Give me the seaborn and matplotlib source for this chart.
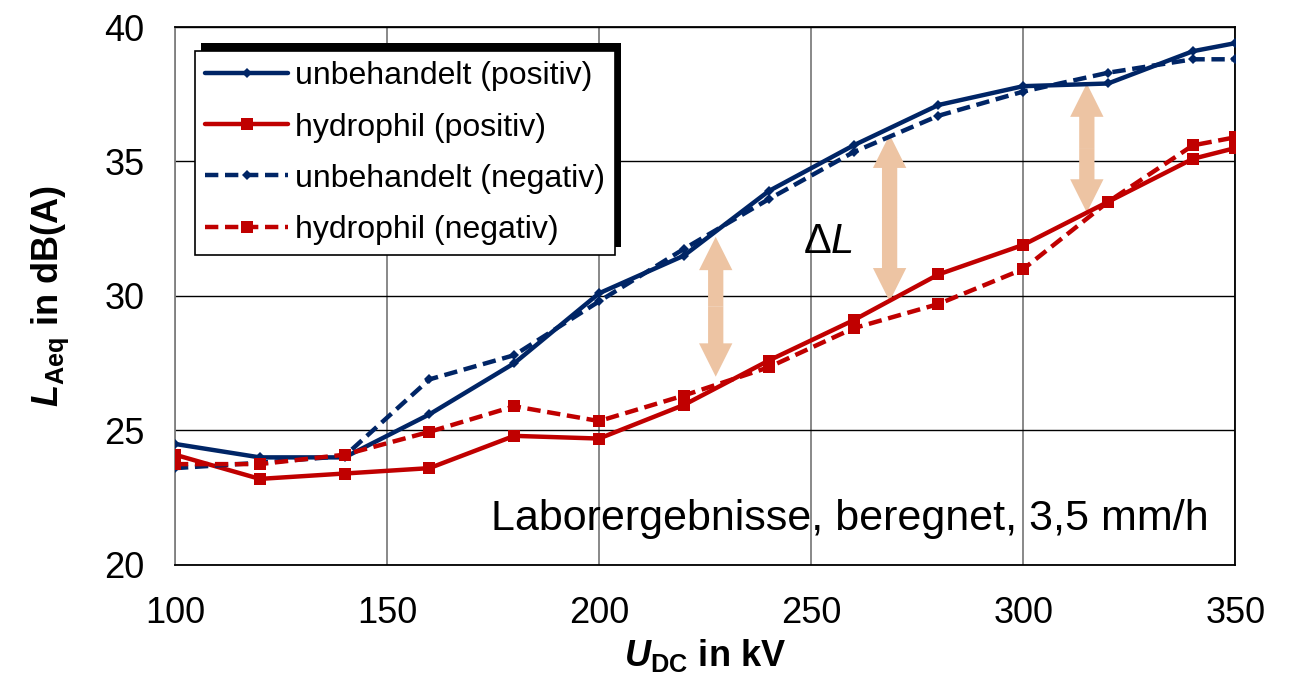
import numpy as np
import pandas as pd
import matplotlib
matplotlib.use("Agg")
import matplotlib.pyplot as plt
import matplotlib.patches as mpatches
from matplotlib.lines import Line2D
import seaborn as sns

# ---------------- data ----------------
voltage_kv = [100, 120, 140, 160, 180, 200, 220, 240, 260, 280, 300, 320, 340, 350]
unbeh_pos = [24.5, 24.0, 24.0, 25.6, 27.5, 30.1, 31.5, 33.9, 35.6, 37.1, 37.8, 37.9, 39.1, 39.4]
hydro_pos = [24.1, 23.2, 23.4, 23.6, 24.8, 24.7, 25.95, 27.6, 29.1, 30.8, 31.9, 33.5, 35.1, 35.5]
unbeh_neg = [23.6, 23.8, 24.05, 26.9, 27.8, 29.8, 31.75, 33.6, 35.35, 36.7, 37.6, 38.3, 38.8, 38.8]
hydro_neg = [23.75, 23.75, 24.1, 24.95, 25.9, 25.35, 26.3, 27.35, 28.8, 29.7, 31.0, 33.5, 35.6, 35.9]
series_labels = ["unbehandelt (positiv)", "hydrophil (positiv)",
                 "unbehandelt (negativ)", "hydrophil (negativ)"]
x_ticks = [100, 150, 200, 250, 300, 350]
y_ticks = [20, 25, 30, 35, 40]
# double arrows (x, y_top, y_bottom)
arrow_x = [227.5, 268.5, 315]
arrow_top = [32.2, 36.0, 37.9]
arrow_bot = [27.0, 29.8, 33.1]
note_text = "Laborergebnisse, beregnet, 3,5 mm/h"

# ---------------- style ----------------
sns.set_theme(style="white")
plt.rcParams["font.family"] = ["Liberation Sans", "DejaVu Sans"]
plt.rcParams["text.color"] = "black"
plt.rcParams["axes.labelcolor"] = "black"
plt.rcParams["mathtext.fontset"] = "custom"
plt.rcParams["mathtext.rm"] = "Liberation Sans"
plt.rcParams["mathtext.it"] = "Liberation Sans:italic"
plt.rcParams["mathtext.bf"] = "Liberation Sans:bold"
plt.rcParams["mathtext.bfit"] = "Liberation Sans:bold:italic"

navy = "#002566"
red = "#C00000"
arrow_col = "#EDC4A3"

fig = plt.figure(figsize=(12.92, 6.82), dpi=100)
ax = fig.add_axes([0.1354, 0.1716, 0.8207, 0.7888])

dash = (0, (3.0, 1.5))
series = [
    (unbeh_pos, series_labels[0], navy, "-", "D", 5),
    (hydro_pos, series_labels[1], red, "-", "s", 8),
    (unbeh_neg, series_labels[2], navy, dash, "D", 5),
    (hydro_neg, series_labels[3], red, dash, "s", 8),
]
handles = []
for vals, lab, col, ls, mk, ms in series:
    df = pd.DataFrame({"U": voltage_kv, "L": vals})
    sns.lineplot(data=df, x="U", y="L", ax=ax, color=col, linestyle=ls,
                 linewidth=3.2, marker=mk, markersize=ms, markeredgewidth=0,
                 legend=False, zorder=4)
    handles.append(Line2D([0], [0], color=col, linestyle=ls, linewidth=3.2,
                          marker=mk, markersize=ms, markeredgewidth=0))

ax.set_xlim(100, 350)
ax.set_ylim(20, 40)
ax.set_xticks(x_ticks)
ax.set_yticks(y_ticks)
ax.tick_params(axis="both", length=0, labelsize=26, colors="black")
ax.tick_params(axis="x", pad=22)
ax.tick_params(axis="y", pad=22)

# grid
ax.xaxis.grid(True, color="#7F7F7F", linewidth=1.3, zorder=0)
ax.yaxis.grid(True, color="black", linewidth=1.0, zorder=0)
ax.set_axisbelow(True)
for side in ["top", "right", "bottom"]:
    ax.spines[side].set_color("black")
    ax.spines[side].set_linewidth(1.3)
ax.spines["left"].set_color("#7F7F7F")
ax.spines["left"].set_linewidth(1.3)

ax.set_xlabel(r"$\mathbfit{U}_{\mathbf{DC}}$ in kV", fontsize=26, fontweight="bold",
              labelpad=5, color="black")
ax.set_ylabel(r"$\mathbfit{L}_{\mathbf{Aeq}}$ in dB(A)", fontsize=26, fontweight="bold",
              labelpad=24, color="black")

# arrows
for xa, yt, yb in zip(arrow_x, arrow_top, arrow_bot):
    ym = (yt + yb) / 2
    for yend in (yt, yb):
        ar = mpatches.FancyArrowPatch((xa, ym), (xa, yend),
                                      arrowstyle=mpatches.ArrowStyle.Simple(head_length=1.2, head_width=1.2, tail_width=0.55),
                                      mutation_scale=20, color=arrow_col, lw=0,
                                      shrinkA=0, shrinkB=0, zorder=3)
        ax.add_patch(ar)

ax.text(254, 32.0, r"$\Delta\mathit{L}$", fontsize=30, ha="center", va="center",
        color="black", zorder=5)
ax.text(0.975, 0.085, note_text, transform=ax.transAxes, fontsize=31,
        ha="right", va="center", color="black", zorder=5)

leg = ax.legend(handles, series_labels, loc="upper left",
                bbox_to_anchor=(0.0189, 0.955), fontsize=23, frameon=True,
                fancybox=False, edgecolor="black", framealpha=1,
                handlelength=2.6, handletextpad=0.2, labelspacing=0.66,
                borderpad=0.32, borderaxespad=0)
for t in leg.get_texts():
    t.set_color("black")
leg.get_frame().set_linewidth(1.2)
leg.set_zorder(10)

fig.canvas.draw()
bb = leg.get_window_extent()
shadow = mpatches.Rectangle((bb.x0 + 6, bb.y0 + 8), bb.width, bb.height,
                            transform=None, facecolor="black", edgecolor="none",
                            zorder=9)
ax.add_artist(shadow)
shadow.set_zorder(9)

fig.savefig("out.png", dpi=100)
